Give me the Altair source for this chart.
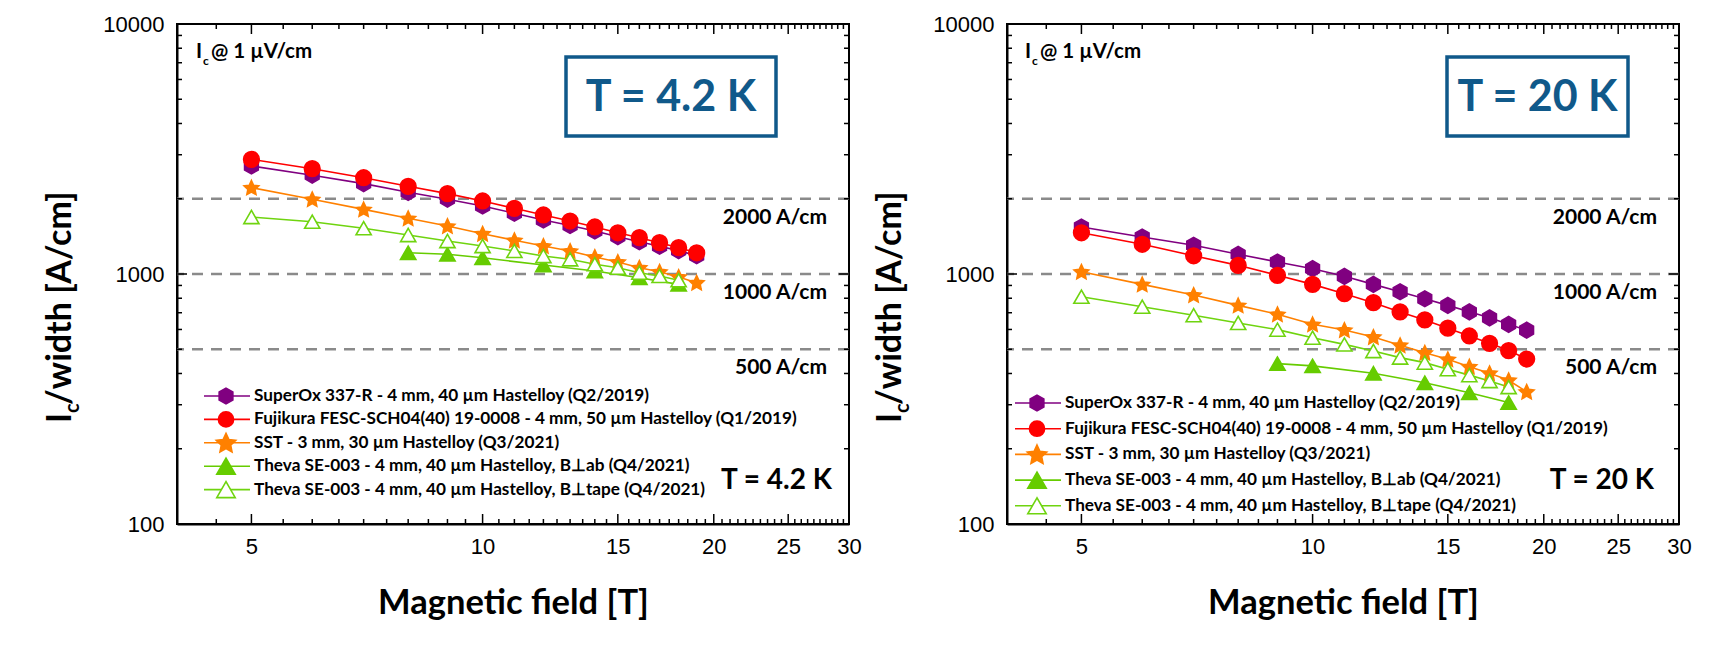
import math
import altair as alt
import pandas as pd

# ---------------- data ----------------
names = [
    "SuperOx 337-R - 4 mm, 40 µm Hastelloy (Q2/2019)",
    "Fujikura FESC-SCH04(40) 19-0008 - 4 mm, 50 µm Hastelloy (Q1/2019)",
    "SST - 3 mm, 30 µm Hastelloy (Q3/2021)",
    "Theva SE-003 - 4 mm, 40 µm Hastelloy, B⊥ab  (Q4/2021)",
    "Theva SE-003 - 4 mm, 40 µm Hastelloy, B⊥tape (Q4/2021)",
]

field_main = [5, 6, 7, 8, 9, 10, 11, 12, 13, 14, 15, 16, 17, 18, 19]
field_tape = [5, 6, 7, 8, 9, 10, 11, 12, 13, 14, 15, 16, 17, 18]
field_ab_42 = [8, 9, 10, 12, 14, 16, 18]
field_ab_20 = [9, 10, 12, 14, 16, 18]

# T = 4.2 K
superox_42 = [2704, 2485, 2298, 2122, 1992, 1871, 1750, 1644, 1563, 1486, 1410, 1346, 1291, 1240, 1183]
fujikura_42 = [2875, 2637, 2427, 2243, 2096, 1959, 1831, 1722, 1629, 1542, 1462, 1397, 1334, 1274, 1216]
sst_42 = [2215, 1990, 1814, 1670, 1555, 1449, 1364, 1294, 1236, 1169, 1117, 1060, 1021, 973, 923]
theva_ab_42 = [1216, 1199, 1161, 1086, 1028, 966, 909]
theva_tape_42 = [1690, 1618, 1524, 1432, 1355, 1294, 1236, 1180, 1145, 1094, 1060, 1012, 982, 944]

# T = 20 K
superox_20 = [1542, 1406, 1303, 1199, 1117, 1050, 979, 909, 849, 796, 749, 706, 668, 629, 596]
fujikura_20 = [1462, 1315, 1183, 1083, 988, 909, 834, 768, 705, 655, 607, 565, 528, 494, 457]
sst_20 = [1021, 909, 824, 749, 690, 629, 597, 560, 519, 484, 456, 426, 401, 376, 338]
theva_ab_20 = [438, 429, 401, 367, 335, 306]
theva_tape_20 = [811, 740, 684, 637, 599, 556, 523, 492, 463, 442, 416, 394, 373, 353]

x_ticks = [5, 10, 15, 20, 25, 30]
x_minor = [h / 2 for h in range(9, 60) if h % 10 != 0]
y_ticks = [100, 1000, 10000]
y_minor = [m * d for d in (100, 1000) for m in range(2, 10)]
ref_levels = [2000, 1000, 500]
ref_labels = ["2000 A/cm", "1000 A/cm", "500 A/cm"]

# ---------------- styles ----------------
W, H = 672, 500
BLUE = "#10598A"
colors = ["#800080", "#FF0000", "#FF8000", "#66CC00", "#6FD40F"]
fills = ["#800080", "#FF0000", "#FF8000", "#66CC00", "white"]
HEX = "M0,-1L0.866,-0.5L0.866,0.5L0,1L-0.866,0.5L-0.866,-0.5Z"
_pts = []
for k in range(10):
    a = math.radians(-90 + 36 * k)
    r = 1.0 if k % 2 == 0 else 0.48
    _pts.append(f"{r*math.cos(a):.3f},{r*math.sin(a)+0.08:.3f}")
STAR = "M" + "L".join(_pts) + "Z"
shapes = [HEX, "circle", STAR, "triangle-up", "triangle-up"]
sizes = [250, 230, 420, 340, 340]
BOLD = "Lato"


def series_frame(fields_list, values_list):
    rows = []
    for name, fs, vs in zip(names, fields_list, values_list):
        for b, v in zip(fs, vs):
            rows.append({"series": name, "B": b, "v": v})
    return pd.DataFrame(rows)


def one(t=""):
    return pd.DataFrame({"t": [t]})


def panel(df, box_text, box_x0, box_x1, tlabel_x, leg_y0, leg_dy, leg_x, ic_x):
    x_enc = alt.X(
        "B:Q",
        scale=alt.Scale(type="log", domain=[4, 30], nice=False),
        axis=alt.Axis(values=x_ticks, format="d", labelFont="Liberation Sans", labelFontSize=22,
                      labelColor="black", labelPadding=12, ticks=False, grid=False,
                      domainColor="black", domainWidth=2, labelFlush=False, labelOverlap=False,
                      title="Magnetic field [T]", titleFont=BOLD, titleFontSize=34.5,
                      titleFontWeight="bold", titleColor="black", titlePadding=29),
    )
    y_enc = alt.Y(
        "v:Q",
        scale=alt.Scale(type="log", domain=[100, 10000], nice=False),
        axis=alt.Axis(values=y_ticks, format="d", labelFont="Liberation Sans", labelFontSize=22,
                      labelColor="black", labelPadding=13, ticks=False, grid=False,
                      domainColor="black", domainWidth=2, labelFlush=False, labelOverlap=False,
                      title=None),
    )
    cscale = alt.Scale(domain=names, range=colors)
    layers = []
    ref_df = pd.DataFrame({"v": ref_levels, "label": ref_labels})
    layers.append(alt.Chart(ref_df).mark_rule(strokeDash=[11, 8], color="#8a8a8a", strokeWidth=2.5)
                  .encode(y=y_enc))
    layers.append(alt.Chart(ref_df).mark_text(align="right", baseline="middle", dy=19, font=BOLD,
                                              fontWeight="bold", fontSize=21, color="black")
                  .encode(y=y_enc, x=alt.value(W - 22), text="label:N"))
    # ticks (inward, on all four sides)
    for vals, ln in ((x_ticks, 10), (x_minor, 5)):
        d = pd.DataFrame({"B": vals})
        layers.append(alt.Chart(d).mark_rule(color="black", strokeWidth=1.5)
                      .encode(x=x_enc, y=alt.value(H), y2=alt.value(H - ln)))
        layers.append(alt.Chart(d).mark_rule(color="black", strokeWidth=1.5)
                      .encode(x=x_enc, y=alt.value(0), y2=alt.value(ln)))
    for vals, ln in ((y_ticks, 10), (y_minor, 5)):
        d = pd.DataFrame({"v": vals})
        layers.append(alt.Chart(d).mark_rule(color="black", strokeWidth=1.5)
                      .encode(y=y_enc, x=alt.value(0), x2=alt.value(ln)))
        layers.append(alt.Chart(d).mark_rule(color="black", strokeWidth=1.5)
                      .encode(y=y_enc, x=alt.value(W), x2=alt.value(W - ln)))
    # data
    layers.append(alt.Chart(df).mark_line(strokeWidth=1.6).encode(
        x=x_enc, y=y_enc, color=alt.Color("series:N", scale=cscale, legend=None), detail="series:N"))
    layers.append(alt.Chart(df).mark_point(filled=True, opacity=1, strokeWidth=1.6).encode(
        x=x_enc, y=y_enc,
        shape=alt.Shape("series:N", scale=alt.Scale(domain=names, range=shapes), legend=None),
        fill=alt.Fill("series:N", scale=alt.Scale(domain=names, range=fills), legend=None),
        stroke=alt.Stroke("series:N", scale=cscale, legend=None),
        size=alt.Size("series:N", scale=alt.Scale(domain=names, range=sizes), legend=None),
    ))
    # legend
    for i, name in enumerate(names):
        yy = leg_y0 + i * leg_dy
        layers.append(alt.Chart(one()).mark_rule(color=colors[i], strokeWidth=1.6)
                      .encode(x=alt.value(leg_x), x2=alt.value(leg_x + 46), y=alt.value(yy)))
        layers.append(alt.Chart(one()).mark_point(filled=True, opacity=1, shape=shapes[i], fill=fills[i],
                                                  stroke=colors[i], size=sizes[i], strokeWidth=1.6)
                      .encode(x=alt.value(leg_x + 22), y=alt.value(yy)))
        layers.append(alt.Chart(one(name)).mark_text(align="left", baseline="middle", font=BOLD,
                                                     fontWeight="bold", fontSize=17.2, color="black")
                      .encode(x=alt.value(leg_x + 50), y=alt.value(yy), text="t:N"))
    # annotations
    layers.append(alt.Chart(one()).mark_rect(fill="white", stroke=BLUE, strokeWidth=3.5)
                  .encode(x=alt.value(box_x0), x2=alt.value(box_x1), y=alt.value(33), y2=alt.value(112)))
    layers.append(alt.Chart(one(box_text)).mark_text(align="center", baseline="middle", font=BOLD,
                                                     fontWeight="bold", fontSize=43, color=BLUE)
                  .encode(x=alt.value((box_x0 + box_x1) / 2), y=alt.value(74), text="t:N"))
    layers.append(alt.Chart(one(box_text)).mark_text(align="right", baseline="middle", font=BOLD,
                                                     fontWeight="bold", fontSize=28, color="black")
                  .encode(x=alt.value(tlabel_x), y=alt.value(457), text="t:N"))
    # I_c @ 1 µV/cm
    for txt, dx, yb, fs in (("I", 0, 34, 20.5), ("c", 7, 40.5, 12), ("@ 1 µV/cm", 15, 34, 20.5)):
        layers.append(alt.Chart(one(txt)).mark_text(align="left", baseline="alphabetic", font=BOLD,
                                                    fontWeight="bold", fontSize=fs, color="black")
                      .encode(x=alt.value(ic_x + dx), y=alt.value(yb), text="t:N"))
    # rotated y title  I_c/width [A/cm]
    for txt, xb, ys, fs in (("I", -106, 399, 34), ("c", -98, 389, 20), ("/width [A/cm]", -106, 381, 34)):
        layers.append(alt.Chart(one(txt)).mark_text(align="left", baseline="alphabetic", angle=270,
                                                    font=BOLD, fontWeight="bold", fontSize=fs, color="black")
                      .encode(x=alt.value(xb), y=alt.value(ys), text="t:N"))
    return alt.layer(*layers).properties(width=W, height=H)


df42 = series_frame([field_main, field_main, field_main, field_ab_42, field_tape],
                    [superox_42, fujikura_42, sst_42, theva_ab_42, theva_tape_42])
df20 = series_frame([field_main, field_main, field_main, field_ab_20, field_tape],
                    [superox_20, fujikura_20, sst_20, theva_ab_20, theva_tape_20])

left = panel(df42, "T = 4.2 K", 389, 599, 655, 372, 23.4, 27, 19)
right = panel(df20, "T = 20 K", 440, 621, 647, 379, 25.7, 8, 18)

chart = (
    alt.hconcat(left, right, spacing=10)
    .properties(padding={"left": 35, "top": 4, "right": 0, "bottom": 0}, background="white")
    .configure_view(stroke="black", strokeWidth=2)
)

chart.save("out.html", embed_options={"renderer": "svg", "actions": False})
